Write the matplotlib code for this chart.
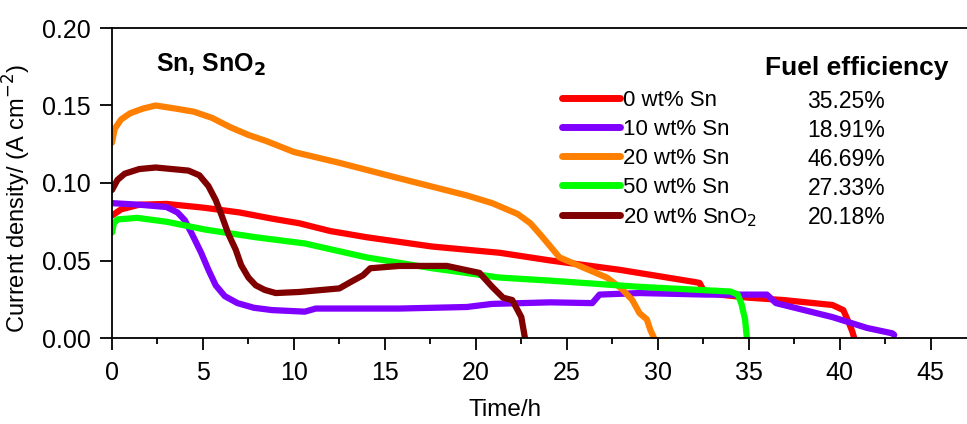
import matplotlib.pyplot as plt
from matplotlib.ticker import MultipleLocator

plt.rcParams['font.family'] = ['Liberation Sans', 'DejaVu Sans']

# values (time in h, current density in A cm-2)
t_0sn = [0.0, 0.5, 1.5, 3.0, 5.1, 7.0, 8.8, 10.3, 12.0, 14.0, 17.6, 21.3, 24.1, 27.9,
         32.1, 32.3, 32.6, 35.0, 36.9, 39.6, 40.2, 40.5, 40.7, 40.8]
j_0sn = [0.079, 0.083, 0.086, 0.0865, 0.084, 0.081, 0.077, 0.074, 0.069, 0.065, 0.059,
         0.055, 0.050, 0.044, 0.036, 0.0355, 0.029, 0.026, 0.0245, 0.0213, 0.018,
         0.010, 0.004, 0.0]

t_10sn = [0.0, 1.5, 3.0, 3.6, 4.0, 4.4, 4.9, 5.3, 5.7, 6.2, 6.9, 7.8, 8.8, 10.6, 11.2,
          15.8, 19.5, 20.9, 24.1, 26.4, 26.8, 29.0, 32.7, 36.0, 36.5, 39.6, 41.5,
          42.9, 43.0]
j_10sn = [0.087, 0.086, 0.0845, 0.081, 0.076, 0.067, 0.055, 0.044, 0.034, 0.027,
          0.0225, 0.0195, 0.018, 0.017, 0.019, 0.019, 0.020, 0.022, 0.023, 0.0225,
          0.028, 0.029, 0.028, 0.028, 0.0225, 0.0135, 0.0065, 0.003, 0.002]

t_20sn = [0.0, 0.15, 0.5, 1.0, 1.7, 2.4, 3.5, 4.5, 5.5, 6.5, 7.5, 8.5, 10.0, 12.5,
          15.8, 19.5, 20.9, 22.3, 23.0, 23.6, 24.1, 24.6, 25.8, 27.2, 28.0, 28.6,
          29.0, 29.4, 29.6, 29.8]
j_20sn = [0.126, 0.135, 0.141, 0.145, 0.148, 0.150, 0.148, 0.146, 0.142, 0.136, 0.131,
          0.127, 0.120, 0.113, 0.103, 0.092, 0.087, 0.080, 0.074, 0.066, 0.059, 0.052,
          0.046, 0.039, 0.032, 0.0245, 0.016, 0.012, 0.005, 0.0]

t_50sn = [0.0, 0.1, 0.3, 1.4, 3.0, 5.1, 7.9, 10.6, 14.0, 17.6, 21.3, 24.1, 29.0, 34.0,
          34.4, 34.6, 34.8, 34.9]
j_50sn = [0.068, 0.074, 0.0765, 0.0775, 0.075, 0.070, 0.065, 0.061, 0.052, 0.045,
          0.039, 0.037, 0.033, 0.030, 0.028, 0.022, 0.012, 0.0]

t_sno2 = [0.0, 0.3, 0.7, 1.5, 2.4, 4.2, 4.8, 5.3, 5.7, 6.0, 6.4, 6.8, 7.1, 7.5, 7.9,
          8.4, 9.0, 10.3, 12.5, 13.1, 13.8, 14.2, 15.8, 18.4, 20.2, 20.9, 21.5, 22.0,
          22.5, 22.7]
j_sno2 = [0.0955, 0.102, 0.106, 0.109, 0.110, 0.108, 0.105, 0.098, 0.089, 0.080,
          0.067, 0.057, 0.047, 0.039, 0.034, 0.031, 0.029, 0.0297, 0.032, 0.036,
          0.0405, 0.045, 0.0465, 0.0465, 0.042, 0.033, 0.026, 0.0245, 0.0135, 0.0]

labels = ['0 wt% Sn', '10 wt% Sn', '20 wt% Sn', '50 wt% Sn', '20 wt% SnO$_2$']
efficiency = ['35.25%', '18.91%', '46.69%', '27.33%', '20.18%']
colors = ['#ff0000', '#8000ff', '#ff8000', '#00ff00', '#800000']

series = [(t_0sn, j_0sn), (t_10sn, j_10sn), (t_20sn, j_20sn),
          (t_50sn, j_50sn), (t_sno2, j_sno2)]

fig = plt.figure(figsize=(9.67, 4.24), dpi=100)
ax = fig.add_axes([112 / 967, 1 - 338 / 424, 855 / 967, 310 / 424])

for (t, j), lab, c in zip(series, labels, colors):
    ax.plot(t, j, color=c, lw=4.5, label=lab, solid_capstyle='round',
            solid_joinstyle='round')

ax.set_xlim(0, 47)
ax.set_ylim(0, 0.20)
ax.xaxis.set_major_locator(MultipleLocator(5))
ax.xaxis.set_minor_locator(MultipleLocator(2.5))
ax.yaxis.set_major_locator(MultipleLocator(0.05))
ax.yaxis.set_major_formatter(plt.FormatStrFormatter('%.2f'))
ax.tick_params(which='major', direction='out', length=8.5, width=1.3, labelsize=18)
ax.tick_params(which='minor', direction='out', length=4.3, width=1.3)
ax.tick_params(axis='x', which='major', pad=8)
ax.tick_params(axis='y', which='major', pad=7)
ax.spines['right'].set_visible(False)
for s in ['left', 'top', 'bottom']:
    ax.spines[s].set_linewidth(1.3)

ax.set_xlabel('Time/h', fontsize=17.5)
ax.xaxis.set_label_coords((505 - 112) / 855, -(399 - 338) / 310)
ax.set_ylabel('Current density/ (A cm$^{-2}$)', fontsize=17)
ax.yaxis.set_label_coords(-(112 - 33) / 855, (338 - 199) / 310)

ax.text(2.4, 0.172, 'Sn, SnO$_\\mathbf{2}$', fontsize=18, fontweight='bold', va='baseline')
ax.text(35.9, 0.170, 'Fuel efficiency', fontsize=19, fontweight='bold', va='baseline')

leg = ax.legend(loc='upper left', bbox_to_anchor=((562 - 112) / 855, (338 - 90) / 310),
                frameon=False, fontsize=16, handlelength=2.6, handletextpad=0.15,
                labelspacing=0.36, borderpad=0, borderaxespad=0)
for line in leg.get_lines():
    line.set_linewidth(5)
    line.set_solid_capstyle('round')

for i, e in enumerate(efficiency):
    ax.text(42.5, 0.1485 - i * 0.0188, e, fontsize=16.5, ha='right', va='baseline')

fig.savefig('out.png', dpi=100)
